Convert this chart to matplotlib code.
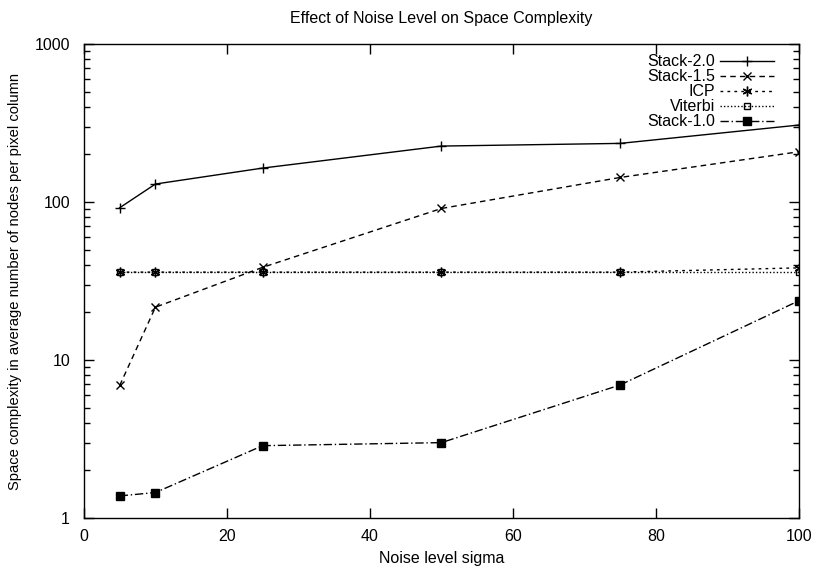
import matplotlib
matplotlib.use("Agg")
import matplotlib.pyplot as plt
from matplotlib.ticker import LogLocator, NullFormatter, FixedLocator

plt.rcParams['font.family'] = ['Liberation Sans', 'DejaVu Sans']
plt.rcParams['font.size'] = 11.5

# noise level (sigma)
sigma = [5, 10, 25, 50, 75, 100]

# average number of nodes per pixel column
stack_20 = [92, 130, 164, 226, 235, 307]
stack_15 = [6.9, 21.6, 38.6, 91, 143, 208]
icp = [36, 36, 36, 36, 36, 38.3]
viterbi = [36, 36, 36, 36, 36, 36]
stack_10 = [1.38, 1.45, 2.87, 3.0, 6.95, 23.7]

fig = plt.figure(figsize=(8.16, 5.68), dpi=100)
ax = fig.add_axes([0.1029, 0.088, 0.876, 0.8345])

ax.plot(sigma, stack_20, color='black', lw=1, ls='-', marker='+', ms=7.5, mew=1,
        label='Stack-2.0')
ax.plot(sigma, stack_15, color='black', lw=1, ls=(0, (4, 3)), marker='x', ms=5.5, mew=1,
        label='Stack-1.5')
ax.plot(sigma, icp, color='black', lw=1, ls=(0, (2, 3)), marker=(6, 2, 0), ms=7, mew=1,
        label='ICP')
ax.plot(sigma, viterbi, color='black', lw=1, ls=(0, (1, 1.5)), marker='s', ms=5, mew=1,
        mfc='none', label='Viterbi')
ax.plot(sigma, stack_10, color='black', lw=1, ls=(0, (6, 2, 1, 2)), marker='s', ms=5.5,
        label='Stack-1.0')

ax.set_yscale('log')
ax.set_xlim(0, 100)
ax.set_ylim(1, 1000)
ax.xaxis.set_major_locator(FixedLocator([0, 20, 40, 60, 80, 100]))
ax.yaxis.set_major_locator(FixedLocator([1, 10, 100, 1000]))
ax.yaxis.set_major_formatter(matplotlib.ticker.FuncFormatter(lambda v, p: '%d' % v))
ax.yaxis.set_minor_locator(LogLocator(base=10, subs=range(2, 10)))
ax.yaxis.set_minor_formatter(NullFormatter())

ax.tick_params(which='both', direction='in', top=True, right=True, width=1, labelsize=11.5)
ax.tick_params(axis='y', which='major', length=7, pad=10)
ax.tick_params(axis='x', which='major', length=7, pad=8)
ax.tick_params(which='minor', length=4)
for s in ax.spines.values():
    s.set_linewidth(1)

ax.set_title('Effect of Noise Level on Space Complexity', fontsize=11.5, pad=15)
ax.set_xlabel('Noise level sigma', fontsize=11.5, labelpad=5)
ax.set_ylabel('Space complexity in average number of nodes per pixel column', fontsize=10.6,
              labelpad=9)

ax.legend(loc='upper right', frameon=False, markerfirst=False, handlelength=3.4,
          labelspacing=0.0, handletextpad=0.3, borderaxespad=0.25,
          borderpad=0.4, fontsize=11.5, bbox_to_anchor=(0.98, 1.0))

fig.savefig('out.png', dpi=100)
